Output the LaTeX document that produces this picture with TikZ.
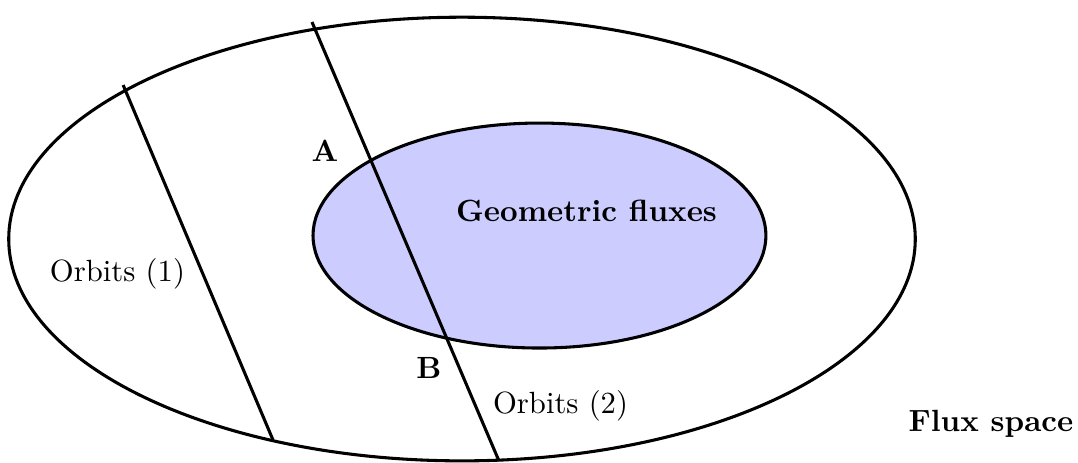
\documentclass[tikz,border=0pt]{standalone}
\usepackage{tikz}
\tikzset{
  region/.style={draw=black, line width=1pt},
  orbit/.style={draw=black, line width=1pt},
  lbl/.style={font=\normalsize},
  pt/.style={font=\bfseries}
}
\begin{document}
\begin{tikzpicture}
  \useasboundingbox (-5.29,-2.553) rectangle (7.053,2.737);
  % flux space and geometric fluxes
  \draw[region] (0,0) ellipse [x radius=5.19cm, y radius=2.54cm];
  \draw[region, fill=blue!20] (0.887,0.04) ellipse [x radius=2.593cm, y radius=1.288cm];
  % orbits
  \coordinate (o1top) at (-3.88,1.763);
  \coordinate (o1bot) at (-2.164,-2.301);
  \coordinate (o2top) at (-1.718,2.485);
  \coordinate (o2bot) at (0.424,-2.542);
  \draw[orbit] (o1top) -- (o1bot);
  \draw[orbit] (o2top) -- (o2bot);
  % labels
  \node[pt] (A) at (-1.569,1.008) {A};
  \node[pt] (B) at (-0.378,-1.471) {B};
  \node[pt] (geo) at (1.426,0.321) {Geometric fluxes};
  \node[lbl] (orb1) at (-3.945,-0.401) {Orbits (1)};
  \node[lbl] (orb2) at (1.128,-1.912) {Orbits (2)};
  \node[pt] (flux) at (6.057,-2.113) {Flux space};
\end{tikzpicture}
\end{document}
